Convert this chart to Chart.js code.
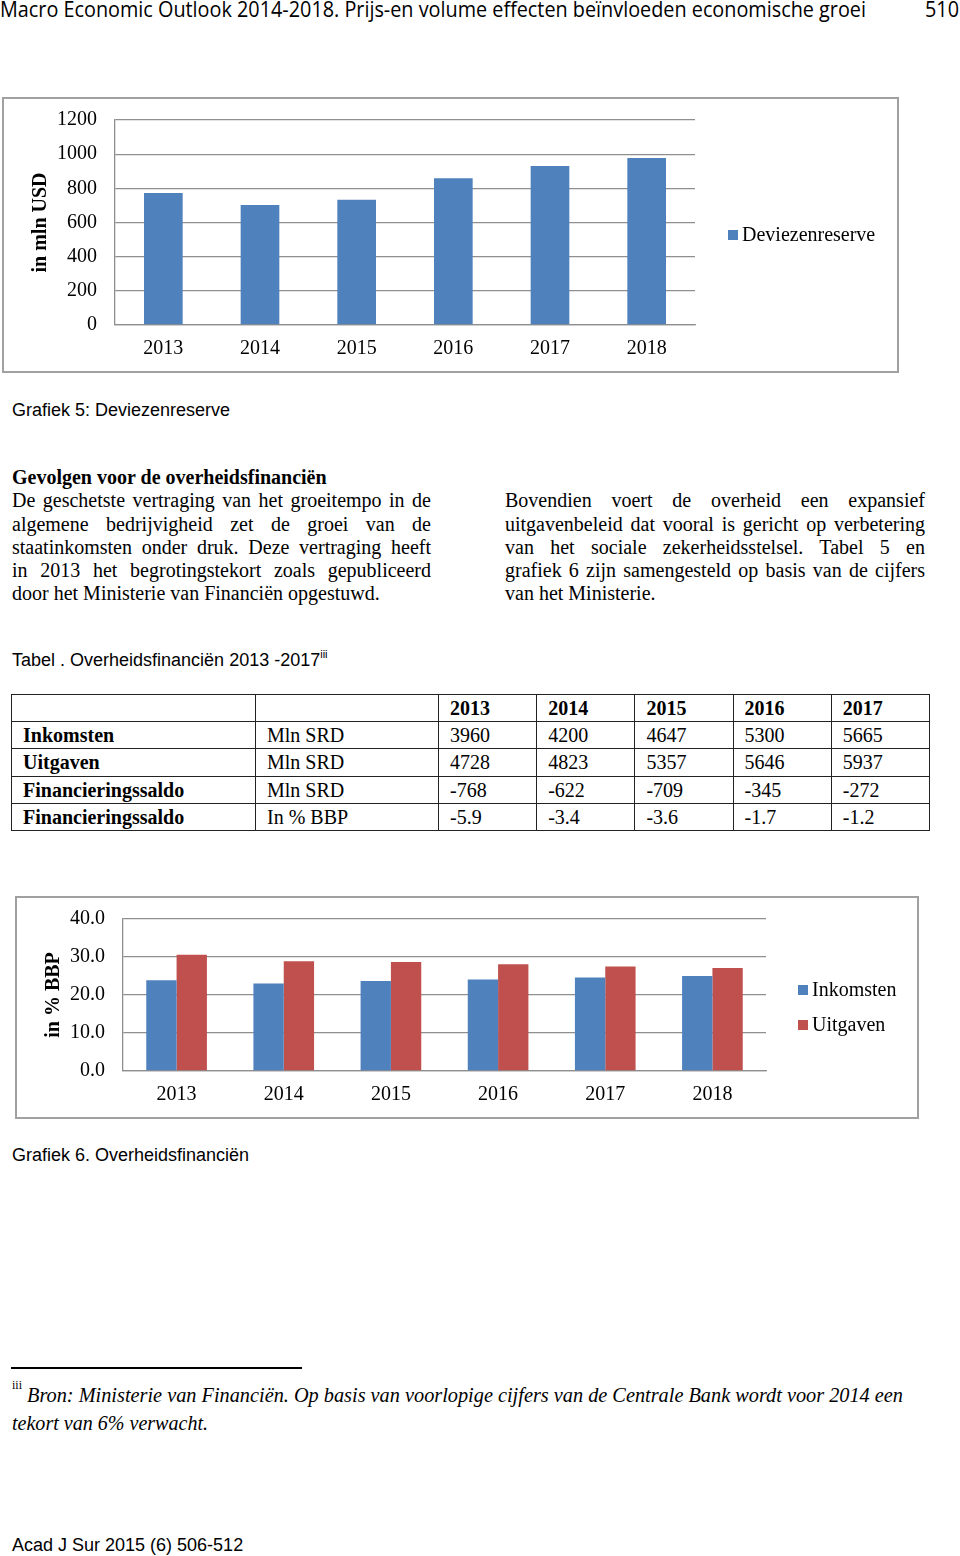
<!DOCTYPE html>
<html>
<head>
<meta charset="utf-8">
<script src="https://cdn.jsdelivr.net/npm/chart.js@4.4.1/dist/chart.umd.min.js"></script>
<style>
html,body{margin:0;padding:0;background:#fff;}
body{width:960px;height:1556px;position:relative;overflow:hidden;color:#000;}
.abs{position:absolute;white-space:nowrap;}
.sans{font-family:"Liberation Sans",Arial,sans-serif;font-size:18px;line-height:20px;}
.serif{font-family:"Liberation Serif","Times New Roman",serif;font-size:20px;}
.frame{position:absolute;box-sizing:border-box;border:2px solid #a0a0a0;background:#fff;}
.line{position:absolute;font-family:"Liberation Serif","Times New Roman",serif;font-size:20px;line-height:23.25px;white-space:nowrap;}
.just{text-align:justify;text-align-last:justify;white-space:normal;}
.fit{display:inline-block;transform-origin:0 0;}
sup.s{font-size:11px;vertical-align:0;position:relative;top:-8px;}
#tbl{position:absolute;left:11px;top:694px;border-collapse:collapse;table-layout:fixed;width:919px;font-family:"Liberation Serif","Times New Roman",serif;font-size:20px;}
#tbl td{border:1.5px solid #222;height:26.2px;padding:0 0 0 11px;line-height:24px;white-space:nowrap;overflow:hidden;}
#tbl td.b{font-weight:bold;}
canvas{position:absolute;}
</style>
</head>
<body>

<div class="abs" style="left:0;top:-3px;font-family:'Liberation Sans Narrow','Open Sans',sans-serif;font-size:21px;line-height:24px;"><span class="fit" data-w="866">Macro Economic Outlook 2014-2018. Prijs-en volume effecten beïnvloeden economische groei</span></div>
<div class="abs" style="left:925px;top:-3px;font-family:'Liberation Sans Narrow','Open Sans',sans-serif;font-size:21px;line-height:24px;"><span class="fit" data-w="34">510</span></div>

<div class="frame" style="left:2px;top:97px;width:897px;height:276px;"></div>
<canvas id="c1" width="893" height="272" style="left:4px;top:99px;"></canvas>

<div class="abs sans" style="left:12px;top:399.5px;">Grafiek 5: Deviezenreserve</div>

<div class="line" style="left:12px;top:466px;font-weight:bold;">Gevolgen voor de overheidsfinanciën</div>
<div class="line just" style="left:12px;top:489.3px;width:419px;">De geschetste vertraging van het groeitempo in de</div>
<div class="line just" style="left:12px;top:512.5px;width:419px;">algemene bedrijvigheid zet de groei van de</div>
<div class="line just" style="left:12px;top:535.8px;width:419px;">staatinkomsten onder druk. Deze vertraging heeft</div>
<div class="line just" style="left:12px;top:559px;width:419px;">in 2013 het begrotingstekort zoals gepubliceerd</div>
<div class="line" style="left:12px;top:582.3px;">door het Ministerie van Financiën opgestuwd.</div>

<div class="line just" style="left:505px;top:489.3px;width:420px;">Bovendien voert de overheid een expansief</div>
<div class="line just" style="left:505px;top:512.5px;width:420px;">uitgavenbeleid dat vooral is gericht op verbetering</div>
<div class="line just" style="left:505px;top:535.8px;width:420px;">van het sociale zekerheidsstelsel. Tabel 5 en</div>
<div class="line just" style="left:505px;top:559px;width:420px;">grafiek 6 zijn samengesteld op basis van de cijfers</div>
<div class="line" style="left:505px;top:582.3px;">van het Ministerie.</div>

<div class="abs sans" style="left:12px;top:650.4px;">Tabel . Overheidsfinanciën 2013 -2017<sup class="s">iii</sup></div>

<table id="tbl"><colgroup><col style="width:244px"><col style="width:183px"><col><col><col><col><col></colgroup><tbody></tbody></table>

<div class="frame" style="left:15px;top:896px;width:904px;height:223px;"></div>
<canvas id="c2" width="900" height="219" style="left:17px;top:898px;"></canvas>

<div class="abs sans" style="left:12px;top:1145.4px;">Grafiek 6. Overheidsfinanciën</div>

<div class="abs" style="left:11px;top:1367px;width:291px;height:2px;background:#000;"></div>
<div class="abs serif" style="left:12px;top:1378px;font-size:12px;line-height:14px;">iii</div>
<div class="abs serif" style="left:27px;top:1383px;font-style:italic;font-size:21px;line-height:24px;"><span class="fit" data-w="876">Bron: Ministerie van Financiën. Op basis van voorlopige cijfers van de Centrale Bank wordt voor 2014 een</span></div>
<div class="abs serif" style="left:12px;top:1411px;font-style:italic;font-size:21px;line-height:24px;"><span class="fit" data-w="196">tekort van 6% verwacht.</span></div>

<div class="abs sans" style="left:12px;top:1534.8px;">Acad J Sur 2015 (6) 506-512</div>

<script>
// ---- data ----
const years = ['2013', '2014', '2015', '2016', '2017', '2018'];
const deviezenreserve = [773, 702, 733, 859, 931, 978];
const inkomstenPctBBP = [23.9, 23.0, 23.7, 24.1, 24.6, 25.0];
const uitgavenPctBBP = [30.6, 28.9, 28.7, 28.1, 27.5, 27.1];
const axis1Max = 1200, axis1Step = 200;
const axis2Max = 40, axis2Step = 10;

const tableYears = ['2013', '2014', '2015', '2016', '2017'];
const tableLabels = ['Inkomsten', 'Uitgaven', 'Financieringssaldo', 'Financieringssaldo'];
const tableUnits = ['Mln SRD', 'Mln SRD', 'Mln SRD', 'In % BBP'];
const tableInkomsten = ['3960', '4200', '4647', '5300', '5665'];
const tableUitgaven = ['4728', '4823', '5357', '5646', '5937'];
const tableSaldo = ['-768', '-622', '-709', '-345', '-272'];
const tableSaldoPct = ['-5.9', '-3.4', '-3.6', '-1.7', '-1.2'];

// ---- table ----
(function(){
  const tb = document.querySelector('#tbl tbody');
  const mk = (cells, boldIdx) => {
    const tr = document.createElement('tr');
    cells.forEach((c, i) => {
      const td = document.createElement('td');
      td.textContent = c;
      if (boldIdx(i)) td.className = 'b';
      tr.appendChild(td);
    });
    tb.appendChild(tr);
  };
  mk(['', ''].concat(tableYears), i => i >= 2);
  const rows = [tableInkomsten, tableUitgaven, tableSaldo, tableSaldoPct];
  rows.forEach((r, k) => mk([tableLabels[k], tableUnits[k]].concat(r), i => i === 0));
})();

// ---- fit-width text ----
document.querySelectorAll('.fit').forEach(el => {
  const w = el.getBoundingClientRect().width;
  const t = parseFloat(el.dataset.w);
  if (w > 0) el.style.transform = 'scaleX(' + (t / w) + ')';
});

// ---- charts ----
const SERIF = '"Liberation Serif", "Times New Roman", serif';
Chart.defaults.font.family = SERIF;
Chart.defaults.font.size = 20;
Chart.defaults.color = '#000';
const GRID = '#8f8f8f';

const sideLegend = {
  id: 'sideLegend',
  afterDraw(chart, args, opts) {
    const ctx = chart.ctx;
    ctx.save();
    ctx.font = '20px ' + SERIF;
    ctx.textBaseline = 'middle';
    ctx.textAlign = 'left';
    chart.data.datasets.forEach((ds, i) => {
      const y = opts.y + i * opts.step;
      ctx.fillStyle = ds.backgroundColor;
      ctx.fillRect(opts.x, y - 5, 10, 10);
      ctx.fillStyle = '#000';
      ctx.fillText(ds.label, opts.x + 14, y + 1);
    });
    ctx.restore();
  }
};

function yScale(max, step, width, titleText, titlePad, fmt) {
  return {
    min: 0, max: max,
    afterFit(s) { s.width = width; s.paddingTop = 0; s.paddingBottom = 0; },
    grid: { color: GRID, lineWidth: 1.3, drawTicks: false },
    border: { display: true, color: GRID, width: 1.3 },
    ticks: { stepSize: step, padding: 18, callback: fmt },
    title: { display: true, text: titleText, font: { weight: 'bold', size: 20 }, padding: { top: titlePad, bottom: 0 } }
  };
}
function xScale() {
  return {
    afterFit(s) { s.height = 46; s.paddingLeft = 0; s.paddingRight = 0; },
    grid: { display: false, drawTicks: false },
    border: { display: true, color: GRID, width: 1.3 },
    ticks: { padding: 12 }
  };
}

new Chart(document.getElementById('c1'), {
  type: 'bar',
  data: {
    labels: years,
    datasets: [{ label: 'Deviezenreserve', data: deviezenreserve, backgroundColor: '#4f81bd', categoryPercentage: 0.4, barPercentage: 1 }]
  },
  options: {
    responsive: false, animation: false, devicePixelRatio: 1,
    layout: { autoPadding: false, padding: { left: 0, top: 21, right: 202, bottom: 0 } },
    plugins: { legend: { display: false }, tooltip: { enabled: false }, sideLegend: { x: 724, y: 136, step: 0 } },
    scales: { x: xScale(), y: yScale(axis1Max, axis1Step, 111, 'in mln USD', 25, v => String(v)) }
  },
  plugins: [sideLegend]
});

new Chart(document.getElementById('c2'), {
  type: 'bar',
  data: {
    labels: years,
    datasets: [
      { label: 'Inkomsten', data: inkomstenPctBBP, backgroundColor: '#4f81bd', categoryPercentage: 0.566, barPercentage: 1 },
      { label: 'Uitgaven', data: uitgavenPctBBP, backgroundColor: '#c0504d', categoryPercentage: 0.566, barPercentage: 1 }
    ]
  },
  options: {
    responsive: false, animation: false, devicePixelRatio: 1,
    layout: { autoPadding: false, padding: { left: 0, top: 21, right: 151, bottom: 0 } },
    plugins: { legend: { display: false }, tooltip: { enabled: false }, sideLegend: { x: 781, y: 92, step: 35 } },
    scales: { x: xScale(), y: yScale(axis2Max, axis2Step, 106, 'in % BBP', 25, v => Number(v).toFixed(1)) }
  },
  plugins: [sideLegend]
});
</script>
</body>
</html>
